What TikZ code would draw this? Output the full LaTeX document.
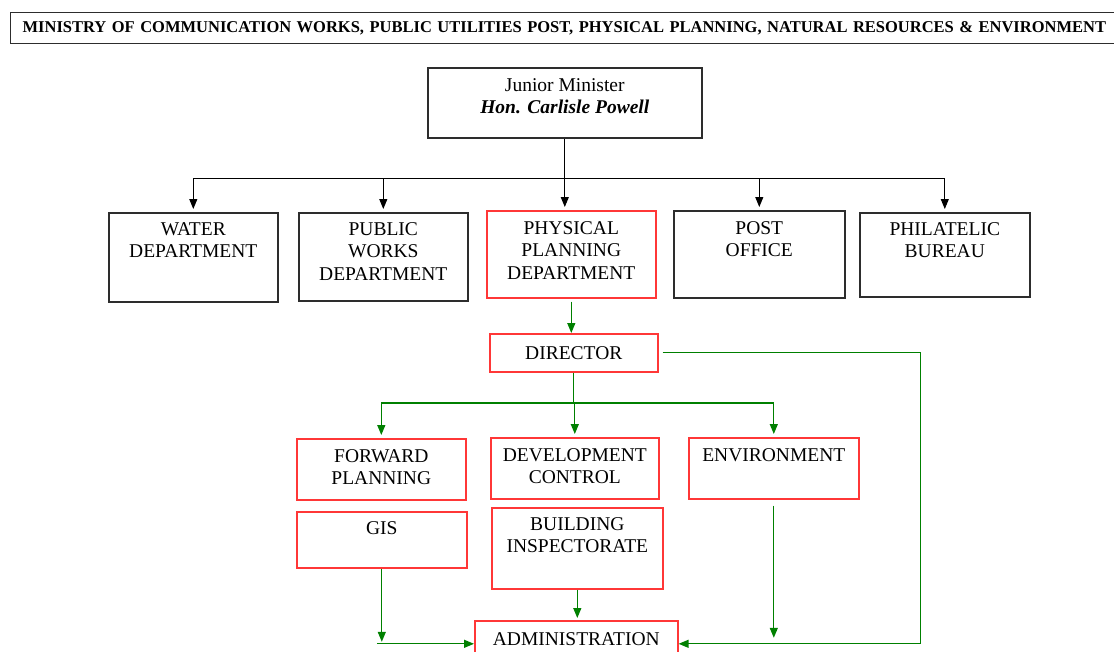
\documentclass[tikz,border=0pt]{standalone}
\usepackage{fontspec}
\setmainfont{Liberation Serif}
\usetikzlibrary{arrows.meta,calc}

\definecolor{boxred}{RGB}{255,55,55}
\definecolor{boxgray}{RGB}{45,45,45}
\definecolor{linkgreen}{RGB}{0,128,0}

% box with the text set at its top: width, height, top padding
\tikzset{
  box/.style n args={3}{anchor=north west, inner sep=0pt, line width=1.6pt,
    execute at begin node={\begin{minipage}[t][#2pt][t]{#1pt}\centering\vspace*{#3pt}},
    execute at end node={\end{minipage}}},
  blackbox/.style={draw=boxgray},
  redbox/.style={draw=boxred},
  bline/.style={line width=1pt},
  barrow/.style={bline, -{Triangle[length=10pt,width=8pt]}, shorten >=3pt},
  gline/.style={draw=linkgreen, line width=1.3pt},
  garrow/.style={gline, -{Triangle[length=10pt,width=8pt]}}
}

\begin{document}
\begin{tikzpicture}[x=1pt, y=-1pt, font=\fontsize{19.5}{22.5}\selectfont]
  \useasboundingbox (0,0) rectangle (1114,651);
  \clip (0,0) rectangle (1114,651);

  % Titel
  \node[draw=boxgray, line width=1.3pt, anchor=north west, inner xsep=12pt, minimum height=31,
    text width=1100, font=\fontsize{16.5}{18}\selectfont\bfseries] (title) at (10,12)
    {MINISTRY OF COMMUNICATION WORKS, PUBLIC UTILITIES POST, PHYSICAL PLANNING, NATURAL RESOURCES \& ENVIRONMENT};

  % Junior Minister
  \node[box={274}{70}{10.5}, blackbox] (jm) at (427,67)
    {Junior Minister\\\textbf{\textit{Hon. Carlisle Powell}}};

  % Departments
  \node[box={169}{89}{9.5}, blackbox] (water) at (108,212) {WATER\\DEPARTMENT};
  \node[box={169}{88}{9.5}, blackbox] (pworks) at (298,212) {PUBLIC\\WORKS\\DEPARTMENT};
  \node[box={169}{87}{10.5}, redbox] (ppd) at (486,210) {PHYSICAL\\PLANNING\\DEPARTMENT};
  \node[box={171}{87}{10.5}, blackbox] (post) at (673,210) {POST\\OFFICE};
  \node[box={170}{84}{9.5}, blackbox] (phil) at (859,212) {PHILATELIC\\BUREAU};

  % Physical Planning
  \node[box={168}{38}{12.5}, redbox] (director) at (489,333) {DIRECTOR};
  \node[box={169}{61}{10.5}, redbox] (fwd) at (296,438) {FORWARD\\PLANNING};
  \node[box={168}{61}{10.5}, redbox] (dev) at (490,437) {DEVELOPMENT\\CONTROL};
  \node[box={170}{61}{10.5}, redbox] (env) at (688,437) {ENVIRONMENT};
  \node[box={170}{56}{9.5}, redbox] (gis) at (296,511) {GIS};
  \node[box={171}{81}{9.5}, redbox] (bi) at (491,507) {BUILDING\\INSPECTORATE};
  \node[box={203}{46}{11.5}, redbox] (admin) at (474,620) {ADMINISTRATION};

  % Minister zu den Abteilungen
  \coordinate (bus) at (564,178);
  \draw[bline] (water.north |- bus) -- (phil.north |- bus);
  \draw[barrow] (jm.south) -- (jm.south |- ppd.north);
  \foreach \d in {water,pworks,post,phil}
    \draw[barrow] (\d.north |- bus) -- (\d.north);

  % Abteilung zum Direktor
  \draw[garrow, shorten <=3pt] (ppd.south) -- (ppd.south |- director.north);

  % Direktor zu den Sektionen
  \coordinate (gbus) at (573,403);
  \draw[gline] (director.south) -- (director.south |- gbus);
  \draw[gline] (fwd.north |- gbus) -- (env.north |- gbus);
  \foreach \s in {fwd,dev,env}
    \draw[garrow, shorten >=3pt] (\s.north |- gbus) -- (\s.north);

  % zur Verwaltung
  \draw[garrow, shorten <=4pt] (director.east) -- ++(262,0) |- (admin.east);
  \draw[garrow] (gis.south) -- ($(gis.south |- admin.west)+(0,-2)$);
  \draw[garrow] ($(gis.south |- admin.west)+(-5,0)$) -- (admin.west);
  \draw[garrow, shorten >=2pt] (bi.south) -- (bi.south |- admin.north);
  \draw[garrow, shorten <=6pt, shorten >=6pt] (env.south) -- (env.south |- admin.east);
\end{tikzpicture}
\end{document}
